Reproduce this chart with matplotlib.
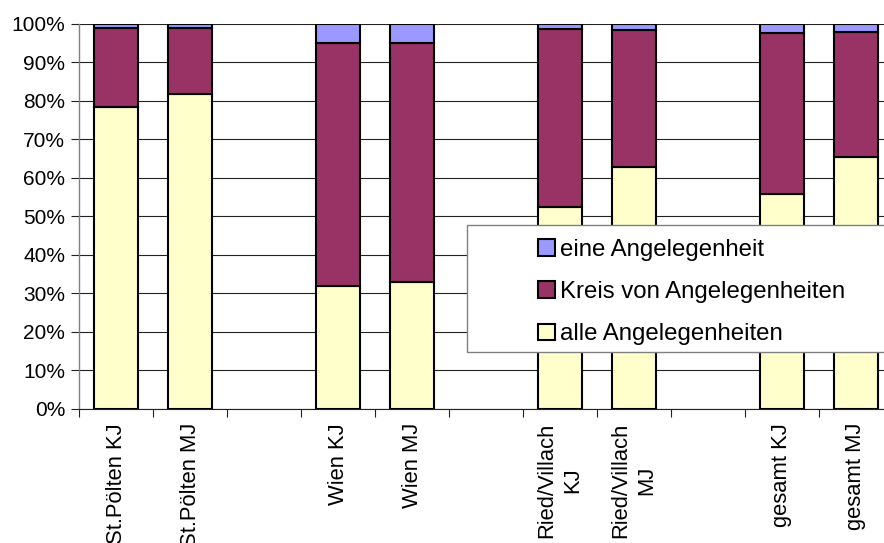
import numpy as np
import matplotlib
matplotlib.use('Agg')
import matplotlib.pyplot as plt
from matplotlib.patches import Rectangle

# categories (empty strings are the gaps between the groups)
categories = ['St.Pölten KJ', 'St.Pölten MJ', '',
              'Wien KJ', 'Wien MJ', '',
              'Ried/Villach\nKJ', 'Ried/Villach\nMJ', '',
              'gesamt KJ', 'gesamt MJ']

# shares in percent
alle = [78.3, 81.7, np.nan, 32.0, 32.9, np.nan, 52.3, 62.9, np.nan, 55.7, 65.5]
kreis = [20.5, 17.1, np.nan, 62.9, 62.0, np.nan, 46.3, 35.4, np.nan, 41.8, 32.3]
eine = [1.2, 1.2, np.nan, 5.1, 5.1, np.nan, 1.4, 1.7, np.nan, 2.5, 2.2]

series_names = ['eine Angelegenheit', 'Kreis von Angelegenheiten', 'alle Angelegenheiten']
colors = {'eine': '#9999FF', 'kreis': '#993366', 'alle': '#FFFFCC'}

plt.rcParams['font.family'] = ['Liberation Sans', 'DejaVu Sans']

def plot_chart():
    fig = plt.figure(figsize=(8.84, 5.43), dpi=100)
    W, H = 884, 543
    # plot area runs past the right edge of the picture, as in the original
    ax = fig.add_axes([79 / W, 134 / H, (893 - 79) / W, (409 - 23.7) / H])

    x = np.arange(len(categories))
    alle_a = np.array(alle)
    kreis_a = np.array(kreis)
    eine_a = np.array(eine)

    bw = 0.59
    kw = dict(width=bw, edgecolor='black', linewidth=1.5, zorder=3)
    b_alle = ax.bar(x, alle_a, color=colors['alle'], **kw)
    b_kreis = ax.bar(x, kreis_a, bottom=alle_a, color=colors['kreis'], **kw)
    b_eine = ax.bar(x, eine_a, bottom=alle_a + kreis_a, color=colors['eine'], **kw)

    ax.set_xlim(-0.5, len(categories) - 0.5)
    ax.set_ylim(0, 100)
    yt = np.arange(0, 101, 10)
    ax.set_yticks(yt)
    ax.set_yticklabels([f'{v}%' for v in yt], fontsize=15)
    ax.yaxis.grid(True, color='#222222', linewidth=0.8, zorder=0)
    ax.set_axisbelow(True)

    # tick marks on the category borders, labels in the middle
    ax.set_xticks(np.arange(-0.5, len(categories), 1.0))
    ax.set_xticklabels([])
    ax.set_xticks(x, minor=True)
    ax.set_xticklabels(categories, minor=True, rotation=90, fontsize=15.8,
                       va='top', ha='center', multialignment='center',
                       linespacing=1.3)
    ax.tick_params(axis='x', which='major', length=6, width=0.8, color='#222222')
    ax.tick_params(axis='x', which='minor', length=0, pad=10)
    ax.tick_params(axis='y', length=6, width=0.8, color='#222222', pad=4)

    for s in ['top', 'right']:
        ax.spines[s].set_visible(False)
    ax.spines['left'].set_color('#808080')
    ax.spines['left'].set_linewidth(1.0)
    ax.spines['bottom'].set_color('#222222')
    ax.spines['bottom'].set_linewidth(0.8)

    # legend box
    fig.patches.append(Rectangle((467 / W, 1 - 352 / H), (900 - 467) / W, (352 - 225) / H,
                                 transform=fig.transFigure, facecolor='white',
                                 edgecolor='#808080', linewidth=1.0, zorder=5))
    leg = fig.legend([b_eine, b_kreis, b_alle], series_names,
                     loc='center left', bbox_to_anchor=(538 / W, 1 - 292 / H),
                     bbox_transform=fig.transFigure, frameon=False, fontsize=17.3,
                     handlelength=0.7, handleheight=0.7, handletextpad=0.2,
                     labelspacing=0.85, borderpad=0, borderaxespad=0)
    leg.set_zorder(6)
    for h in leg.legend_handles:
        h.set_linewidth(1.5)

    fig.savefig('out.png', dpi=100)

def main():
    plot_chart()

if __name__ == '__main__':
    main()
